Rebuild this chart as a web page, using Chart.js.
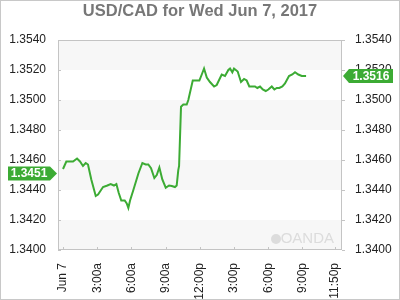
<!DOCTYPE html>
<html>
<head>
<meta charset="utf-8">
<script src="https://cdn.jsdelivr.net/npm/chart.js@4/dist/chart.umd.min.js"></script>
<style>
  html, body { margin: 0; padding: 0; background: #fff; }
  #wrap { width: 400px; height: 300px; position: relative; }
</style>
</head>
<body>
<div id="wrap"><canvas id="c" width="400" height="300"></canvas></div>
<script>
// ---- data (hours after midnight, Jun 7 2017) ----
const hours = [0, 0.29, 0.88, 1.23, 1.49, 1.75, 1.99, 2.19, 2.48, 2.87, 3.07, 3.51, 3.89, 4.18, 4.47, 4.68, 4.89, 5.11, 5.41, 5.59, 5.73, 5.88, 6.17, 6.61, 6.96, 7.25, 7.48, 7.72, 8.01, 8.22, 8.45, 8.71, 9.01, 9.30, 9.54, 9.82, 9.97, 10.11, 10.18, 10.35, 10.55, 10.85, 10.99, 11.38, 11.67, 11.96, 12.17, 12.37, 12.61, 12.89, 13.25, 13.48, 13.92, 14.21, 14.50, 14.65, 14.85, 15.00, 15.32, 15.61, 15.88, 16.11, 16.34, 16.55, 16.84, 17.04, 17.28, 17.52, 17.78, 18.01, 18.31, 18.54, 18.75, 18.97, 19.24, 19.47, 19.82, 20.11, 20.35, 20.64, 20.94, 21.32];
const rates = [1.3454, 1.3459, 1.3459, 1.3461, 1.3459, 1.3456, 1.3458, 1.3457, 1.3447, 1.3436, 1.3437, 1.3442, 1.3443, 1.3444, 1.3443, 1.3444, 1.3438, 1.3433, 1.3433, 1.3431, 1.3428, 1.3433, 1.3440, 1.3451, 1.3458, 1.3457, 1.3457, 1.34545, 1.3448, 1.3450, 1.3455, 1.3447, 1.34415, 1.3443, 1.34427, 1.3442, 1.3443, 1.34533, 1.3456, 1.34955, 1.3497, 1.3497, 1.3500, 1.3513, 1.3513, 1.3513, 1.3517, 1.3521, 1.3515, 1.3512, 1.3509, 1.3510, 1.3517, 1.3516, 1.3520, 1.3521, 1.35185, 1.3521, 1.3519, 1.3512, 1.3514, 1.3513, 1.3509, 1.3509, 1.3509, 1.3508, 1.3509, 1.3507, 1.3506, 1.3507, 1.3509, 1.3507, 1.3508, 1.3508, 1.3509, 1.3511, 1.3516, 1.3517, 1.35185, 1.3517, 1.3516, 1.3516];
const tickHours = [0, 3, 6, 9, 12, 15, 18, 21, 23.833];
const tickLabels = ["Jun 7", "3:00a", "6:00a", "9:00a", "12:00p", "3:00p", "6:00p", "9:00p", "11:50p"];
const yTicks = [1.3400, 1.3420, 1.3440, 1.3460, 1.3480, 1.3500, 1.3520, 1.3540];
const openLabel = 1.3451;
const lastLabel = 1.3516;
const titleText = "USD/CAD for Wed Jun 7, 2017";

const GREEN = '#3cab34';
const FONT = 'Arial, "Liberation Sans", sans-serif';

const decorPlugin = {
  id: 'decor',
  beforeDraw(chart) {
    const ctx = chart.ctx;
    ctx.save();
    ctx.fillStyle = '#fff';
    ctx.fillRect(0, 0, chart.width, chart.height);
    ctx.strokeStyle = '#c8c8c8';
    ctx.lineWidth = 1;
    ctx.strokeRect(0.5, 0.5, chart.width - 1, chart.height - 1);
    const a = chart.chartArea;
    const y = chart.scales.y;
    // alternating bands
    ctx.fillStyle = '#f7f7f7';
    for (let i = 0; i < yTicks.length - 1; i += 2) {
      const y1 = y.getPixelForValue(yTicks[i]);
      const y2 = y.getPixelForValue(yTicks[i + 1]);
      ctx.fillRect(a.left, y2, a.right - a.left, y1 - y2);
    }
    // watermark
    ctx.fillStyle = '#dcdcdc';
    ctx.font = '15px ' + FONT;
    ctx.textAlign = 'right';
    ctx.textBaseline = 'middle';
    ctx.fillText('OANDA', a.right - 8, a.bottom - 11);
    ctx.beginPath();
    ctx.arc(a.right - 66, a.bottom - 11, 5, 0, Math.PI * 2);
    ctx.fill();
    ctx.restore();
  },
  afterDraw(chart) {
    const ctx = chart.ctx;
    const a = chart.chartArea;
    const y = chart.scales.y;
    const x = chart.scales.x;
    ctx.save();
    ctx.strokeStyle = '#c4c4c4';
    ctx.lineWidth = 1;
    ctx.strokeRect(Math.round(a.left) + 0.5, Math.round(a.top) + 0.5, Math.round(a.right - a.left) - 1, Math.round(a.bottom - a.top) - 1);
    ctx.beginPath();
    yTicks.forEach(v => {
      const py = Math.round(y.getPixelForValue(v)) + 0.5;
      ctx.moveTo(a.left, py); ctx.lineTo(a.left + 3, py);
      ctx.moveTo(a.right, py); ctx.lineTo(a.right + 3, py);
    });
    tickHours.forEach(h => {
      const px = Math.round(x.getPixelForValue(h)) + 0.5;
      ctx.moveTo(px, a.bottom); ctx.lineTo(px, a.bottom - 3);
    });
    ctx.stroke();
    // price labels
    const drawTag = (val, side) => {
      const py = y.getPixelForValue(val);
      const h = 14;
      ctx.fillStyle = GREEN;
      ctx.beginPath();
      if (side === 'left') {
        const tip = a.left - 1, bx = tip - 7, lx = 8;
        ctx.moveTo(lx, py - h / 2); ctx.lineTo(bx, py - h / 2); ctx.lineTo(tip, py);
        ctx.lineTo(bx, py + h / 2); ctx.lineTo(lx, py + h / 2);
      } else {
        const tip = a.right + 1, bx = tip + 6, rx = 393;
        ctx.moveTo(rx, py - h / 2); ctx.lineTo(bx, py - h / 2); ctx.lineTo(tip, py);
        ctx.lineTo(bx, py + h / 2); ctx.lineTo(rx, py + h / 2);
      }
      ctx.closePath();
      ctx.fill();
      ctx.fillStyle = '#fff';
      ctx.font = 'bold 12px ' + FONT;
      ctx.textBaseline = 'middle';
      ctx.textAlign = 'center';
      const cx = side === 'left' ? (8 + a.left - 8) / 2 : (a.right + 7 + 393) / 2;
      ctx.fillText(val.toFixed(4), cx, py + 0.5);
    };
    drawTag(openLabel, 'left');
    drawTag(lastLabel, 'right');
    ctx.restore();
  }
};

new Chart(document.getElementById('c'), {
  type: 'line',
  data: {
    datasets: [{
      data: hours.map((h, i) => ({ x: h, y: rates[i] })),
      borderColor: GREEN,
      borderWidth: 2,
      pointRadius: 0,
      tension: 0,
      fill: false
    }]
  },
  options: {
    responsive: false,
    animation: false,
    devicePixelRatio: 1,
    layout: { padding: 0 },
    plugins: {
      legend: { display: false },
      tooltip: { enabled: false },
      title: {
        display: true,
        text: titleText,
        color: '#777777',
        font: { family: FONT, size: 16.5, weight: 'bold', lineHeight: 1.2 },
        padding: { top: 2, bottom: 18.2 }
      }
    },
    scales: {
      x: {
        type: 'linear',
        min: -0.44,
        max: 24.47,
        grid: { display: false },
        border: { display: false },
        afterBuildTicks(s) { s.ticks = tickHours.map(v => ({ value: v })); },
        afterFit(s) { s.height = 50; },
        ticks: {
          autoSkip: false,
          minRotation: 90,
          maxRotation: 90,
          padding: 5,
          color: '#222',
          font: { family: FONT, size: 12 },
          callback: (v, i) => tickLabels[i]
        }
      },
      y: {
        position: 'left',
        min: 1.34,
        max: 1.354,
        grid: { display: false },
        border: { display: false },
        afterBuildTicks(s) { s.ticks = yTicks.map(v => ({ value: v })); },
        afterFit(s) { s.width = 58; },
        ticks: {
          padding: 4,
          color: '#222',
          font: { family: FONT, size: 12 },
          callback: v => Number(v).toFixed(4)
        }
      },
      y2: {
        position: 'right',
        min: 1.34,
        max: 1.354,
        grid: { display: false },
        border: { display: false },
        afterBuildTicks(s) { s.ticks = yTicks.map(v => ({ value: v })); },
        afterFit(s) { s.width = 58; },
        ticks: {
          padding: 5,
          color: '#222',
          font: { family: FONT, size: 12 },
          callback: v => Number(v).toFixed(4)
        }
      }
    }
  },
  plugins: [decorPlugin]
});
</script>
</body>
</html>
